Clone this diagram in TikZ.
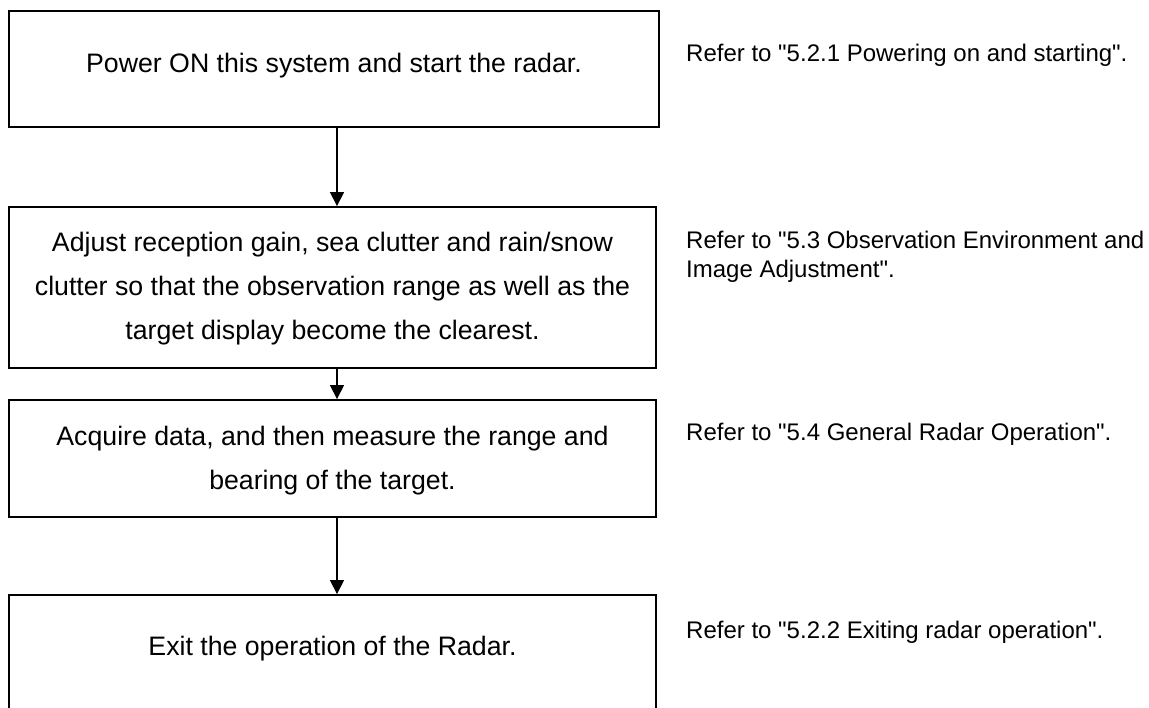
\documentclass[tikz,border=0pt]{standalone}
\usepackage{fontspec}
\setmainfont{Liberation Sans}[Ligatures=TeXOff]
\usetikzlibrary{arrows.meta}
\begin{document}
\begin{tikzpicture}[x=1pt,y=-1pt,
  stepbox/.style={draw=black, line width=1.8pt, rectangle, inner sep=0pt},
  boxtext/.style={align=center, font=\fontsize{26.7}{44}\selectfont, inner sep=0pt},
  reftext/.style={align=left, anchor=west, font=\fontsize{24}{29.5}\selectfont, inner sep=0pt},
  arr/.style={line width=1.3pt, -{Triangle[width=14pt,length=14pt]}}]
\useasboundingbox (0,0) rectangle (1149,708);
\fill[white] (0,0) rectangle (1149,708);
% boxes
\node[stepbox, minimum width=650pt, minimum height=116pt] (b1) at (334,69) {};
\node[stepbox, minimum width=647pt, minimum height=161pt] (b2) at (332.5,287.5) {};
\node[stepbox, minimum width=647pt, minimum height=117pt] (b3) at (332.5,458.5) {};
\node[stepbox, minimum width=647pt, minimum height=120pt] (b4) at (332.5,655) {};
% box texts
\node[boxtext] (t1) at (334,66) {Power ON this system and start the radar.};
\node[boxtext] (t2) at (332.5,289) {Adjust reception gain, sea clutter and rain/snow\\clutter so that the observation range as well as the\\target display become the clearest.};
\node[boxtext] (t3) at (332.5,461) {Acquire data, and then measure the range and\\bearing of the target.};
\node[boxtext] (t4) at (332.5,649) {Exit the operation of the Radar.};
% references
\node[reftext] (r1) at (686,55) {Refer to "5.2.1 Powering on and starting".};
\node[reftext] (r2) at (686,257) {Refer to "5.3 Observation Environment and\\Image Adjustment".};
\node[reftext] (r3) at (686,434) {Refer to "5.4 General Radar Operation".};
\node[reftext] (r4) at (686,632) {Refer to "5.2.2 Exiting radar operation".};
% connectors
\coordinate (ax) at (337,0);
\draw[arr] (b1.south -| ax) -- (b2.north -| ax);
\draw[arr] (b2.south -| ax) -- (b3.north -| ax);
\draw[arr] (b3.south -| ax) -- (b4.north -| ax);
\end{tikzpicture}
\end{document}
